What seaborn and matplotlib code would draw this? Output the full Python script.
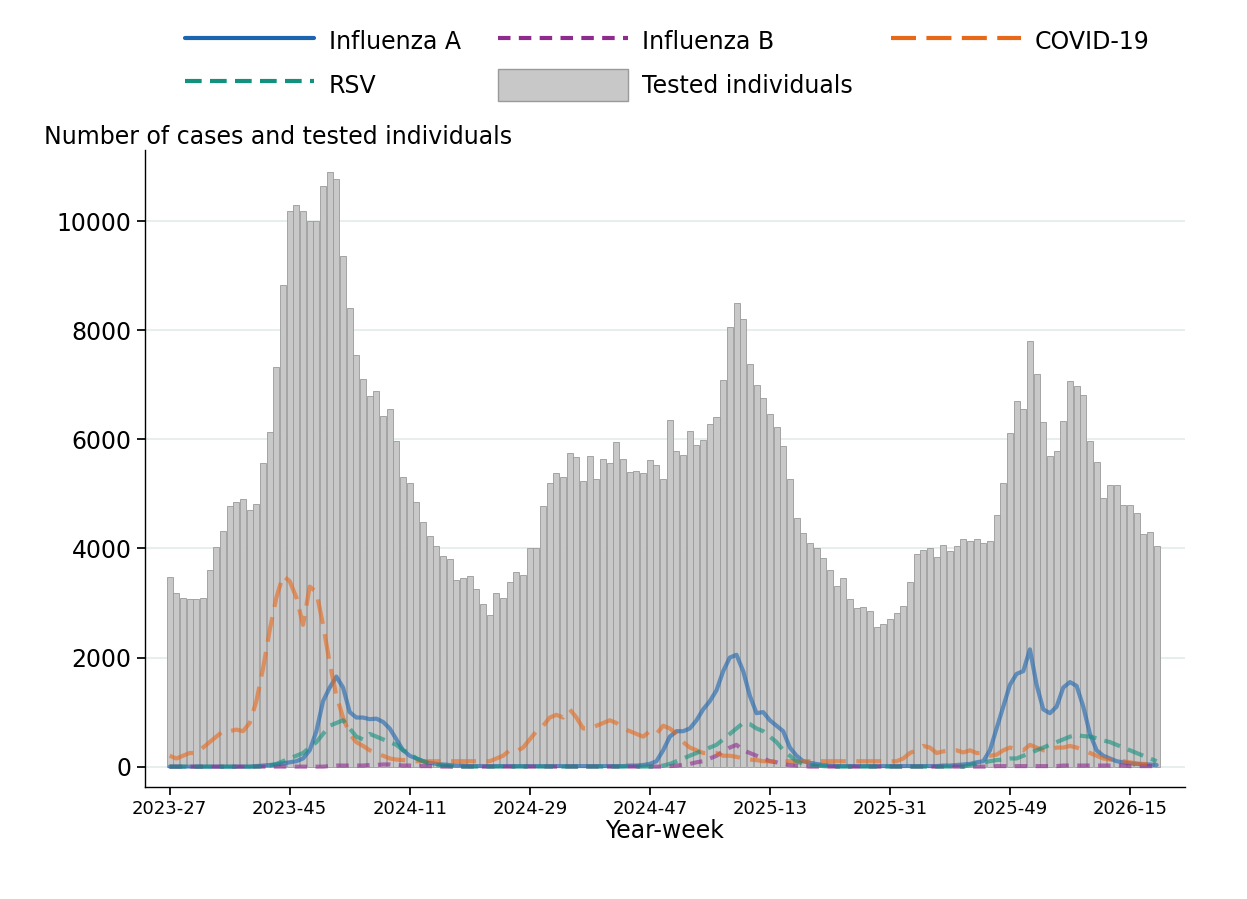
import matplotlib
matplotlib.use("Agg")
import matplotlib.pyplot as plt
import matplotlib.lines as mlines
import matplotlib.patches as mpatches
import seaborn as sns
import pandas as pd
import numpy as np

tested = [3480,3180,3100,3080,3080,3100,3600,4020,4320,4770,
          4850,4900,4700,4820,5560,6130,7320,8820,10180,10300,
          10180,10000,10000,10650,10900,10780,9360,8400,7540,7100,
          6800,6880,6420,6550,5960,5300,5200,4850,4480,4230,
          4050,3860,3800,3420,3460,3490,3260,2990,2780,3190,
          3090,3380,3560,3520,4000,4000,4780,5200,5380,5300,
          5740,5680,5240,5700,5280,5640,5560,5950,5640,5400,
          5420,5380,5620,5520,5280,6350,5780,5720,6160,5900,
          5980,6280,6400,7080,8060,8500,8200,7380,7000,6760,
          6460,6230,5870,5270,4550,4280,4100,4010,3820,3600,
          3320,3460,3080,2900,2920,2860,2560,2620,2700,2820,
          2940,3380,3900,3970,4010,3840,4070,3960,4040,4170,
          4140,4170,4100,4130,4620,5190,6110,6700,6560,7800,
          7200,6320,5700,5780,6340,7060,6980,6820,5960,5580,
          4930,5170,5160,4800,4800,4650,4260,4300,4040,4040]
tested = tested[:149]

flu_a = [0,0,0,0,0,0,0,0,0,0,
         0,0,0,10,20,30,40,60,80,100,
         150,300,650,1200,1450,1650,1450,1000,900,900,
         870,880,820,700,500,300,200,150,100,70,
         50,40,30,20,20,10,10,10,10,10,
         10,10,10,10,10,10,10,10,10,10,
         10,10,10,10,10,10,10,10,10,20,
         20,30,50,100,300,550,650,650,700,850,
         1050,1200,1400,1750,2000,2050,1750,1300,980,1000,
         850,750,650,350,200,100,70,50,30,20,
         10,10,10,10,10,10,10,10,10,10,
         10,10,10,10,10,10,20,20,30,40,
         50,80,100,300,700,1100,1500,1700,1750,2150,
         1500,1050,980,1100,1450,1550,1480,1100,600,300,
         200,150,100,80,60,50,40,40,30]
covid = [200,150,200,250,250,350,450,550,650,650,
         680,650,800,1200,1800,2500,3100,3500,3400,3100,
         2600,3300,3200,2600,1900,1300,900,600,450,380,
         300,250,200,150,130,120,110,100,100,100,
         100,100,100,100,100,100,100,100,100,150,
         200,300,280,350,500,650,750,900,950,900,
         1050,900,700,700,750,800,850,800,700,650,
         600,550,650,600,750,700,600,450,350,300,
         250,250,250,200,200,180,150,130,120,100,
         100,100,100,100,100,100,100,100,100,100,
         100,100,100,100,100,100,100,100,100,100,
         150,250,300,380,350,250,280,300,300,260,
         300,250,250,200,220,300,350,320,300,400,
         350,300,300,350,350,380,350,300,250,200,
         150,130,120,100,80,60,50,40,30]
rsv = [0,0,0,0,0,0,0,0,0,0,
       0,0,0,0,0,20,50,100,150,200,
       250,350,450,600,750,800,850,700,550,500,
       600,550,500,450,400,300,250,150,100,50,
       30,20,10,0,0,0,0,0,0,0,
       0,0,0,0,0,0,0,0,0,0,
       0,0,0,0,0,0,0,0,0,0,
       0,0,0,0,20,50,100,150,200,250,
       300,350,400,500,600,700,800,780,700,650,
       550,450,300,200,100,50,30,20,10,0,
       0,0,0,0,0,0,0,0,0,0,
       0,0,0,0,0,0,0,0,0,0,
       30,50,80,100,120,130,150,150,200,250,
       300,350,400,450,500,550,580,560,550,520,
       480,450,400,350,300,250,200,150,100]
flu_b = [0,0,0,0,0,0,0,0,0,0,
         0,0,0,0,0,0,0,0,0,0,
         0,0,0,0,10,20,20,20,20,20,
         30,30,40,40,30,20,20,10,10,10,
         0,0,0,0,0,0,0,0,0,0,
         0,0,0,0,0,0,0,0,0,0,
         0,0,0,0,0,0,0,0,0,0,
         0,0,0,0,0,10,20,30,50,80,
         100,150,200,280,350,400,300,250,200,150,
         100,80,50,30,20,10,0,0,0,0,
         0,0,0,0,0,0,0,0,0,0,
         0,0,0,0,0,0,0,0,0,0,
         0,0,0,0,10,10,10,10,10,10,
         10,10,10,10,20,20,20,20,20,20,
         20,20,20,20,10,10,10,10,10]
tick_pos = [0,18,36,54,72,90,108,126,144]
tick_labels = ["2023-27","2023-45","2024-11","2024-29","2024-47",
               "2025-13","2025-31","2025-49","2026-15"]

n = len(tested)
def fit(a):
    a = list(a)[:n]
    return a + [a[-1]]*(n-len(a))
week = np.arange(n)

sns.set_theme(style="white")
plt.rcParams['font.family'] = ['DejaVu Sans']
plt.rcParams['text.color'] = 'black'
plt.rcParams['xtick.color'] = 'black'
plt.rcParams['ytick.color'] = 'black'
plt.rcParams['axes.labelcolor'] = 'black'
fig = plt.figure(figsize=(12.47, 8.99), dpi=100)
ax = fig.add_axes([0.116, 0.125, 0.834, 0.708])

ax.bar(week, tested, width=0.9, color="#c8c8c8", edgecolor="#9a9a9a", linewidth=0.6, zorder=2)

series = [("Influenza A", flu_a, "#1a64b0", None),
          ("Influenza B", flu_b, "#8e2c8e", (3, 2)),
          ("COVID-19", covid, "#e8681a", (6, 2.5)),
          ("RSV", rsv, "#12917e", (4, 2))]
handles = {}
for name, vals, col, dash in series:
    df = pd.DataFrame({"week": week, "v": fit(vals)})
    sns.lineplot(data=df, x="week", y="v", ax=ax, color=col, lw=3, alpha=0.6, zorder=3)
    line = ax.lines[-1]
    if dash:
        line.set_dashes(dash)
    h = mlines.Line2D([], [], color=col, lw=3)
    if dash:
        h.set_dashes(dash)
    handles[name] = h
handles["Tested individuals"] = mpatches.Patch(facecolor="#c8c8c8", edgecolor="#9a9a9a")

ax.set_xlim(-3.75, 152.2)
ax.set_ylim(-366, 11300)
ax.set_yticks([0, 2000, 4000, 6000, 8000, 10000])
ax.set_xticks(tick_pos)
ax.set_xticklabels(tick_labels, fontsize=13)
ax.tick_params(axis='y', labelsize=17, length=6, direction='out', left=True, color='black')
ax.tick_params(axis='x', length=6, direction='out', bottom=True, color='black')
ax.yaxis.grid(True, color="#e3ebeb", lw=1.2, zorder=0)
ax.set_axisbelow(True)
for s in ["top", "right"]:
    ax.spines[s].set_visible(False)
for s in ["left", "bottom"]:
    ax.spines[s].set_color("black")
    ax.spines[s].set_linewidth(1)
ax.set_xlabel("Year-week", fontsize=17, labelpad=1)
ax.set_ylabel("")
fig.text(0.035, 0.84, "Number of cases and tested individuals", fontsize=17)

order = ["Influenza A", "RSV", "Influenza B", "Tested individuals", "COVID-19"]
fig.legend([handles[k] for k in order], order, ncol=3, loc="upper center",
           bbox_to_anchor=(0.535, 0.995), frameon=False, fontsize=17,
           handlelength=5.5, columnspacing=1.6, handleheight=1.7, handletextpad=0.6)
fig.savefig("out.png", dpi=100)
